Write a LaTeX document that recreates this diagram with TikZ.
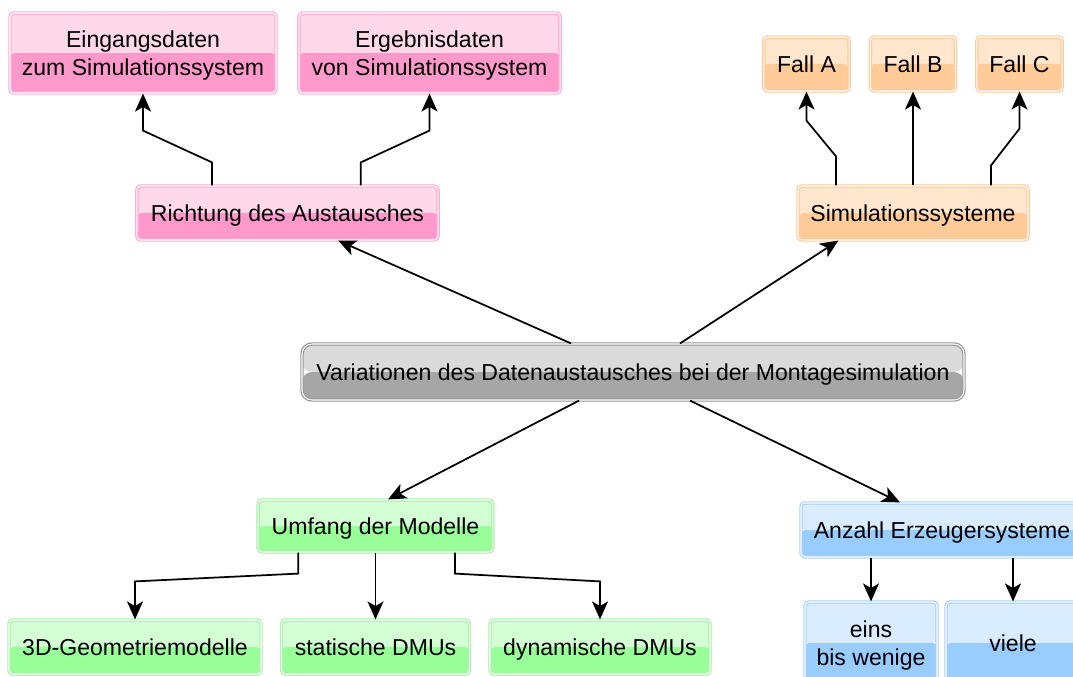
\documentclass[tikz,border=0pt]{standalone}
\usepackage{fontspec}
\setmainfont{Liberation Sans}
\usetikzlibrary{arrows.meta,positioning,calc}
\definecolor{cpinkt}{RGB}{255,216,234}
\definecolor{cpinkb}{RGB}{255,153,204}
\definecolor{cpinkd}{RGB}{255,170,210}
\definecolor{corgt}{RGB}{255,230,204}
\definecolor{corgb}{RGB}{255,204,153}
\definecolor{corgd}{RGB}{255,200,150}
\definecolor{cgryt}{RGB}{218,218,218}
\definecolor{cgryb}{RGB}{166,166,166}
\definecolor{cgryd}{RGB}{150,150,150}
\definecolor{cgrnt}{RGB}{212,255,212}
\definecolor{cgrnb}{RGB}{153,255,153}
\definecolor{cgrnd}{RGB}{165,240,165}
\definecolor{cblut}{RGB}{218,236,255}
\definecolor{cblub}{RGB}{153,204,255}
\definecolor{cblud}{RGB}{165,208,250}

\begin{document}
\begin{tikzpicture}[
  x=0.75pt,y=-0.75pt,
  font=\fontsize{17.3}{21}\selectfont,
  gloss/.style n args={3}{draw=#3,line width=0.9pt,double=white,double distance=0.8pt,
    rounded corners=3pt,align=center,inner sep=0pt,text depth=-0.8pt,
    path picture={
      \fill[#1] (path picture bounding box.north west) rectangle (path picture bounding box.east);
      \fill[#2] (path picture bounding box.west) rectangle (path picture bounding box.south east);
    }},
  pink/.style={gloss={cpinkt}{cpinkb}{cpinkd}},
  orange/.style={gloss={corgt}{corgb}{corgd}},
  green/.style={gloss={cgrnt}{cgrnb}{cgrnd}},
  blue/.style={gloss={cblut}{cblub}{cblud}},
  arrow/.style={-{Stealth[length=13.5pt,width=12pt,inset=3.5pt]},line width=1.3pt}
]
  \useasboundingbox (0,0) rectangle (1073,677);

  % main topic
  \node[gloss={cgryt}{cgryb}{cgryd},rounded corners=7.5pt,minimum width=496.5pt,minimum height=42pt]
    (main) at (633,372) {Variationen des Datenaustausches bei der Montagesimulation};

  % direction of exchange
  \node[pink,minimum width=226pt,minimum height=40.5pt] (rich) at (287.5,213) {Richtung des Austausches};
  \node[pink,minimum width=199.5pt,minimum height=60pt] (ein) at (143,53)
    {Eingangsdaten\\zum Simulationssystem};
  \node[pink,minimum width=196pt,minimum height=60pt] (erg) at (429.5,53)
    {Ergebnisdaten\\von Simulationssystem};

  % simulation systems
  \node[orange,minimum width=172.5pt,minimum height=40.5pt] (sim) at (913,213) {Simulationssysteme};
  \node[orange,minimum width=64pt,minimum height=40.5pt] (fa) at (806.5,64) {Fall A};
  \node[orange,minimum width=64pt,minimum height=40.5pt] (fb) at (913,64) {Fall B};
  \node[orange,minimum width=64pt,minimum height=40.5pt] (fc) at (1019.5,64) {Fall C};

  % scope of models
  \node[green,minimum width=176pt,minimum height=39pt] (umf) at (375.5,526) {Umfang der Modelle};
  \node[green,minimum width=189pt,minimum height=40.5pt] (geo) at (135,647) {3D-Geometriemodelle};
  \node[green,minimum width=141pt,minimum height=40.5pt] (stat) at (375.5,647) {statische DMUs};
  \node[green,minimum width=165pt,minimum height=40.5pt] (dyn) at (600,647) {dynamische DMUs};

  % number of source systems
  \node[blue,minimum width=211.5pt,minimum height=40.5pt] (anz) at (942,530) {Anzahl Erzeugersysteme};
  \node[blue,minimum width=99pt,minimum height=61.5pt] (eins) at (871,643) {eins\\bis wenige};
  \node[blue,minimum width=100.5pt,minimum height=61.5pt] (viele) at (1013,643) {viele};

  \draw[arrow] ([xshift=-46.5pt]main.north) -- ([xshift=38pt]rich.south);
  \draw[arrow] ([xshift=35.25pt]main.north) -- ([xshift=-56pt]sim.south);
  \draw[arrow] ([xshift=-40.5pt]main.south) -- ([xshift=9.4pt]umf.north);
  \draw[arrow] ([xshift=42.75pt]main.south) -- ([xshift=-31.5pt]anz.north);

  \draw[arrow] ([xshift=-56.6pt]rich.north) -- ++(0,-23) -- ($(ein.south)+(0,37)$) -- (ein.south);
  \draw[arrow] ([xshift=55pt]rich.north) -- ++(0,-23) -- ($(erg.south)+(0,37)$) -- (erg.south);

  \draw[arrow] ([xshift=-57.75pt]sim.north) -- ++(0,-29) -- ($(fa.south)+(0,29)$) -- (fa.south);
  \draw[arrow] (sim.north) -- (fb.south);
  \draw[arrow] ([xshift=58.5pt]sim.north) -- ++(0,-20) -- ($(fc.south)+(0,37)$) -- (fc.south);

  \draw[arrow] ([xshift=-58pt]umf.south) -- ++(0,21) -- ($(geo.north)+(0,-38)$) -- (geo.north);
  \draw[arrow] (umf.south) -- (stat.north);
  \draw[arrow] ([xshift=59.6pt]umf.south) -- ++(0,21) -- ($(dyn.north)+(0,-38)$) -- (dyn.north);

  \draw[arrow] (anz.south -| eins.north) -- (eins.north);
  \draw[arrow] (anz.south -| viele.north) -- (viele.north);
\end{tikzpicture}
\end{document}
